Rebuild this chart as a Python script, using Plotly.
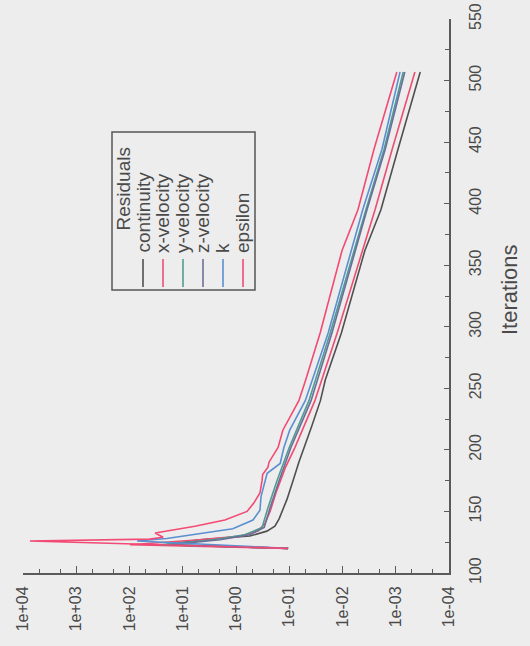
import plotly.graph_objects as go

# ---- data ----
series_names = ["continuity", "x-velocity", "y-velocity", "z-velocity", "k", "epsilon"]

cont_it = [120, 123, 127, 130, 134, 138, 144, 151, 160, 175, 190, 219, 240, 257, 295, 362, 395, 444, 507]
cont_res = [0.105, 21, 4.8, 0.55, 0.263, 0.186, 0.155, 0.132, 0.11, 0.085, 0.066, 0.038, 0.026, 0.021, 0.0105, 0.0038, 0.0019, 0.00091, 0.000347]

xvel_it = [120, 123, 127, 130, 134, 140, 150, 165, 185, 202, 240, 295, 395, 444, 507]
xvel_res = [0.105, 98, 4.8, 0.83, 0.39, 0.288, 0.229, 0.178, 0.12, 0.078, 0.033, 0.0126, 0.00245, 0.00117, 0.000437]

yvel_it = [120, 123, 127, 131, 137, 153, 175, 202, 240, 295, 395, 444, 507]
yvel_res = [0.105, 27, 2.7, 0.68, 0.324, 0.251, 0.17, 0.1, 0.0427, 0.017, 0.00363, 0.00166, 0.000724]

zvel_it = [120, 123, 127, 131, 137, 153, 175, 202, 240, 295, 395, 444, 507]
zvel_res = [0.105, 17.4, 2.0, 0.55, 0.295, 0.229, 0.155, 0.093, 0.039, 0.0158, 0.00347, 0.00158, 0.000676]

k_it = [120, 126, 128, 132, 136, 143, 151, 162, 173, 181, 189, 202, 216, 240, 295, 395, 444, 507]
k_res = [0.105, 72, 20, 4.8, 1.15, 0.48, 0.355, 0.339, 0.288, 0.26, 0.148, 0.126, 0.098, 0.05, 0.0186, 0.00417, 0.00182, 0.00083]

eps_it = [120, 126, 127.5, 129, 132.5, 135, 138, 143, 150, 157, 165, 175, 180, 186, 190, 202, 216, 240, 257, 295, 362, 395, 444, 507]
eps_res = [0.105, 7400, 42, 23.4, 33, 14.1, 5.9, 1.62, 0.62, 0.46, 0.355, 0.324, 0.316, 0.251, 0.24, 0.162, 0.132, 0.066, 0.049, 0.0263, 0.0102, 0.00513, 0.00257, 0.000955]

res_tickvals = [1e4, 1e3, 1e2, 1e1, 1e0, 1e-1, 1e-2, 1e-3, 1e-4]
res_ticktext = ["1e+04", "1e+03", "1e+02", "1e+01", "1e+00", "1e-01", "1e-02", "1e-03", "1e-04"]
iter_tickvals = [100, 150, 200, 250, 300, 350, 400, 450, 500, 550]

series_it = [cont_it, xvel_it, yvel_it, zvel_it, k_it, eps_it]
series_res = [cont_res, xvel_res, yvel_res, zvel_res, k_res, eps_res]
colors = ["#505050", "#ee4d72", "#4f9c94", "#6c6e98", "#5b8fd0", "#f24a74"]

W, H = 530, 646
L, R, T, B = 23, 449, 19, 573
FONT = "Liberation Sans, Arial, sans-serif"
TXT = "#4a4a4a"
AX = "#5a5a5a"
BG = "#ededed"

fig = go.Figure()
for name, it, res, c in zip(series_names, series_it, series_res, colors):
    fig.add_trace(go.Scatter(x=res, y=it, mode="lines", name=name,
                             line=dict(color=c, width=1.6), showlegend=False))

fig.update_layout(
    width=W, height=H,
    margin=dict(l=L, r=W - R, t=T, b=H - B, pad=0, autoexpand=False),
    paper_bgcolor=BG, plot_bgcolor=BG,
    font=dict(family=FONT, color=TXT, size=16),
    showlegend=False,
)
fig.update_xaxes(
    type="log", range=[4, -4], autorange=False, automargin=False,
    tickvals=res_tickvals, ticktext=res_ticktext, tickangle=-90,
    ticks="inside", ticklen=7, tickwidth=1.3, tickcolor=AX,
    minor=dict(ticks="inside", ticklen=4, tickcolor=AX, dtick="D2", showgrid=False),
    showline=True, linecolor=AX, linewidth=2, showgrid=False, zeroline=False,
    tickfont=dict(size=16, color=TXT), ticklabelstandoff=5,
)
fig.update_yaxes(
    side="right", range=[100, 550], autorange=False, automargin=False,
    tickvals=iter_tickvals, tickangle=-90,
    ticks="inside", ticklen=5, tickwidth=1.3, tickcolor=AX,
    minor=dict(ticks="inside", ticklen=4, tickcolor=AX, dtick=25, showgrid=False),
    showline=True, linecolor=AX, linewidth=2, showgrid=False, zeroline=False,
    tickfont=dict(size=16, color=TXT), ticklabelstandoff=11,
)

def px_x(px):
    return (px - L) / (R - L)

def px_y(py):
    return (B - py) / (B - T)

# axis title (rotated like the reference)
fig.add_annotation(x=px_x(509), y=px_y(290), xref="paper", yref="paper",
                   text="Iterations", textangle=-90, showarrow=False,
                   font=dict(size=22, color=TXT), xanchor="center", yanchor="middle")

# legend drawn in rotated form
fig.add_shape(type="rect", xref="paper", yref="paper",
              x0=px_x(112), x1=px_x(255), y0=px_y(290), y1=px_y(132),
              line=dict(color="#555555", width=1.5), fillcolor="rgba(0,0,0,0)")
fig.add_annotation(x=px_x(123), y=px_y(233), xref="paper", yref="paper",
                   text="Residuals", textangle=-90, showarrow=False,
                   font=dict(size=19, color=TXT), xanchor="center", yanchor="bottom")
for i, (name, c) in enumerate(zip(series_names, colors)):
    cx = 143 + 20 * i
    fig.add_shape(type="line", xref="paper", yref="paper",
                  x0=px_x(cx), x1=px_x(cx), y0=px_y(287), y1=px_y(259),
                  line=dict(color=c, width=1.6))
    fig.add_annotation(x=px_x(cx), y=px_y(255), xref="paper", yref="paper",
                       text=name, textangle=-90, showarrow=False,
                       font=dict(size=19, color=TXT), xanchor="center", yanchor="bottom")

fig.write_html(
    "out.html",
    config={"displayModeBar": False},
    post_script="document.body.style.margin='0';document.body.style.background='%s';" % BG,
)
